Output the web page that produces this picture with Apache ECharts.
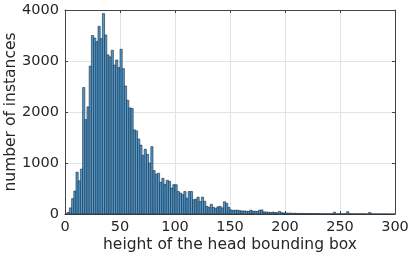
<!DOCTYPE html>
<html>
<head>
<meta charset="utf-8">
<script src="https://cdn.jsdelivr.net/npm/echarts@6/dist/echarts.min.js"></script>
<style>html,body{margin:0;padding:0;background:#fff}#c{width:411px;height:258px}</style>
</head>
<body>
<div id="c"></div>
<script>
const binWidth = 2;
const xTicks = [0, 50, 100, 150, 200, 250, 300];
const yTicks = [0, 1000, 2000, 3000, 4000];
const counts = [
  0, 30, 120, 300, 450, 820, 650, 880, 2480, 1850,
  2100, 2900, 3500, 3450, 3380, 3680, 3440, 3930, 3510, 3120,
  3080, 3210, 2920, 3020, 2870, 3230, 2850, 2510, 2230, 2080,
  2070, 1650, 1630, 1470, 1350, 1150, 1270, 1170, 1000, 1320,
  850, 780, 800, 620, 700, 580, 660, 640, 510, 575,
  575, 440, 410, 380, 440, 310, 440, 440, 280, 290,
  330, 245, 330, 250, 150, 130, 190, 130, 110, 140,
  150, 120, 240, 210, 130, 80, 70, 75, 75, 65,
  60, 60, 55, 50, 75, 55, 55, 50, 75, 80,
  40, 40, 35, 30, 35, 30, 25, 50, 25, 20,
  20, 15, 18, 12, 15, 12, 10, 12, 10, 8,
  10, 8, 8, 10, 6, 8, 6, 5, 6, 5,
  5, 5, 35, 5, 4, 5, 4, 5, 45, 4,
  3, 4, 3, 5, 3, 4, 3, 2, 30, 3,
  3, 2, 3, 2, 2, 2, 2, 1, 1, 1
];
const xLabel = 'height of the head bounding box';
const yLabel = 'number of instances';

const bars = counts.map((c, i) => [i * binWidth, (i + 1) * binWidth, c]);
const font = 'DejaVu Sans';
const frame = '#444';
const lbl = {fontFamily: font, fontSize: 14.5, color: '#262626', margin: 6, formatter: v => String(v)};
function axisBase(isX, secondary) {
  return {
    type: 'value',
    min: isX ? xTicks[0] : yTicks[0],
    max: isX ? xTicks[xTicks.length - 1] : yTicks[yTicks.length - 1],
    interval: isX ? 50 : 1000,
    position: secondary ? (isX ? 'top' : 'right') : (isX ? 'bottom' : 'left'),
    axisLine: {show: true, onZero: false, lineStyle: {color: frame, width: 1}},
    axisTick: {show: true, inside: true, length: 3, lineStyle: {color: frame}},
    axisLabel: secondary ? {show: false} : lbl,
    splitLine: {show: !secondary, lineStyle: {color: '#e3e3e3', width: 1}}
  };
}
const xMain = Object.assign(axisBase(true, false), {
  name: xLabel, nameLocation: 'middle', nameGap: 23, nameMoveOverlap: false,
  nameTextStyle: {fontFamily: font, fontSize: 15.5, color: '#262626'}
});
const yMain = Object.assign(axisBase(false, false), {
  name: yLabel, nameLocation: 'middle', nameGap: 46, nameMoveOverlap: false,
  nameTextStyle: {fontFamily: font, fontSize: 15.5, color: '#262626'}
});
const chart = echarts.init(document.getElementById('c'), null, {renderer: 'canvas'});
chart.setOption({
  animation: false,
  grid: {left: 65, right: 16, top: 10, bottom: 44, containLabel: false, outerBoundsMode: 'none'},
  xAxis: [xMain, axisBase(true, true)],
  yAxis: [yMain, axisBase(false, true)],
  series: [{
    type: 'custom',
    xAxisIndex: 0, yAxisIndex: 0,
    data: bars,
    encode: {x: [0, 1], y: 2},
    renderItem: function (params, api) {
      const p0 = api.coord([api.value(0), 0]);
      const p1 = api.coord([api.value(1), api.value(2)]);
      return {
        type: 'rect',
        shape: {x: p0[0], y: p1[1], width: p1[0] - p0[0], height: p0[1] - p1[1]},
        style: {fill: '#4f9bd3', stroke: '#1a2630', lineWidth: 0.6}
      };
    }
  }]
});
</script>
</body>
</html>
